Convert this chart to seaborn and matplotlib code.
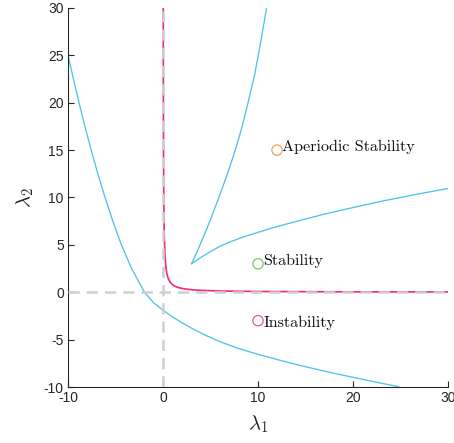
import matplotlib
matplotlib.use("Agg")
import matplotlib.pyplot as plt
import seaborn as sns
import pandas as pd

# Boundary between instability and stability (lower-left branch)
bound_x = [-10.0, -9.43, -8.84, -8.22, -7.56, -6.86, -6.1, -5.28, -4.38, -3.3, -1.95,
           -1.0, 0.0, 1.0, 2.0, 3.2, 4.5, 6.0, 8.0, 10.0, 12.5, 15.0, 17.5, 20.0, 22.5, 24.8]
bound_y = [25.0, 22.5, 20.0, 17.5, 15.0, 12.5, 10.0, 7.5, 5.0, 2.5, 0.0,
           -1.1, -1.9, -2.6, -3.22, -3.9, -4.55, -5.22, -5.95, -6.55, -7.23, -7.86, -8.44, -8.98, -9.5, -9.97]

# Aperiodic boundary: two branches meeting at (3, 3)
right_x = [3.0, 3.9, 5.0, 6.0, 7.05, 8.5, 10.0, 12.0, 14.5, 17.0, 20.0, 23.0, 26.5, 30.0]
right_y = [3.0, 3.62, 4.3, 4.85, 5.31, 5.85, 6.32, 6.93, 7.6, 8.25, 8.94, 9.6, 10.3, 10.95]
upper_x = [3.0, 3.55, 4.07, 4.57, 5.05, 5.5, 5.95, 6.6, 7.45, 8.2, 8.95, 9.65, 10.3, 10.9]
upper_y = [3.0, 4.2, 5.4, 6.6, 7.8, 9.0, 10.2, 12.0, 14.5, 17.0, 20.0, 23.0, 26.5, 30.0]

# Critical-damping curve hugging both axes
crit_x = [0.027, 0.04, 0.06, 0.08, 0.13, 0.2, 0.27, 0.32, 0.4, 0.5, 0.6, 0.75, 0.9, 1.0,
          1.2, 1.5, 2.0, 2.5, 3.2, 4.0, 6.0, 10.0, 20.0, 30.0]
crit_y = [30.0, 20.0, 13.3, 10.0, 6.2, 4.0, 3.0, 2.5, 2.0, 1.6, 1.33, 1.07, 0.89, 0.8,
          0.67, 0.53, 0.4, 0.32, 0.25, 0.2, 0.13, 0.08, 0.04, 0.027]

# Sample points of each region
region_names = ["Aperiodic Stability", "Stability", "Instability"]
region_x = [12.0, 10.0, 10.0]
region_y = [15.0, 3.0, -3.0]
region_colors = ["#F4A05C", "#7CC46A", "#E9606F"]

x_ticks = [-10, 0, 10, 20, 30]
y_ticks = [-10, -5, 0, 5, 10, 15, 20, 25, 30]

sns.set_theme(style="ticks")
plt.rcParams["mathtext.fontset"] = "cm"
plt.rcParams["axes.unicode_minus"] = False
plt.rcParams["font.family"] = ["Liberation Sans", "DejaVu Sans"]

fig = plt.figure(figsize=(4.54, 4.43), dpi=100)
ax = fig.add_axes([0.1498, 0.1264, 0.8370, 0.8556])

blue = "#4DC3EE"
pink = "#F0287F"
lw = 0.95

sns.lineplot(x=bound_x, y=bound_y, sort=False, ax=ax, color=blue, lw=lw)
sns.lineplot(x=upper_x, y=upper_y, sort=False, ax=ax, color=blue, lw=lw)
sns.lineplot(x=right_x, y=right_y, sort=False, ax=ax, color=blue, lw=lw)
sns.lineplot(x=crit_x, y=crit_y, sort=False, ax=ax, color=pink, lw=1.2)

# Coordinate axes as dashed guides
ax.axvline(0, color="#CFCFCF", lw=1.8, ls=(0, (4.5, 2.8)), zorder=3)
ax.axhline(0, color="#CFCFCF", lw=1.8, ls=(0, (4.5, 2.8)), zorder=3)

pts = pd.DataFrame({"x": region_x, "y": region_y, "name": region_names})
sns.scatterplot(data=pts, x="x", y="y", hue="name", palette=region_colors,
                marker="o", s=55, linewidth=0.9, legend=False, ax=ax, zorder=4)
ax.collections[-1].set_facecolor("none")
ax.collections[-1].set_edgecolor(region_colors)

# Labels sit just right of each marker, baseline near the marker centre
label_drop = [0.1, 0.15, 0.65]
for name, x, y, d in zip(region_names, region_x, region_y, label_drop):
    ax.text(x + 0.55, y - d, name, fontfamily="cmr10", fontsize=11.6,
            va="baseline", ha="left", color="#111111")

ax.set_xlim(-10, 30)
ax.set_ylim(-10, 30)
ax.set_xticks(x_ticks)
ax.set_yticks(y_ticks)
ax.tick_params(direction="in", length=4, width=0.8, colors="#262626",
               labelsize=10, labelcolor="#262626", pad=3)
for side in ("top", "right"):
    ax.spines[side].set_visible(False)
for side in ("left", "bottom"):
    ax.spines[side].set_color("#262626")
    ax.spines[side].set_linewidth(0.8)

ax.set_xlabel(r"$\lambda_1$", fontsize=15, labelpad=6)
ax.set_ylabel(r"$\lambda_2$", fontsize=15, labelpad=6)

fig.savefig("out.png", dpi=100)
